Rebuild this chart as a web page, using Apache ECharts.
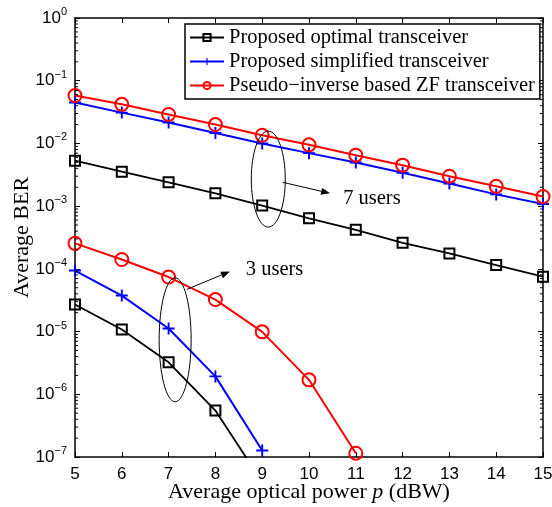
<!DOCTYPE html>
<html>
<head>
<meta charset="utf-8">
<script src="https://cdn.jsdelivr.net/npm/echarts@6/dist/echarts.min.js"></script>
<style>
  html, body { margin: 0; padding: 0; background: #fff; }
  #chart { width: 552px; height: 507px; }
</style>
</head>
<body>
<div id="chart"></div>
<script>
// x values (dBW)
const power = [5, 6, 7, 8, 9, 10, 11, 12, 13, 14, 15]

// 7 users
const optimal7 = [5.3e-3, 3.55e-3, 2.4e-3, 1.6e-3, 1.02e-3, 6.4e-4, 4.2e-4, 2.6e-4, 1.76e-4, 1.15e-4, 7.5e-5]
const simplified7 = [4.5e-2, 3.1e-2, 2.16e-2, 1.47e-2, 1.0e-2, 7.0e-3, 4.95e-3, 3.4e-3, 2.3e-3, 1.54e-3, 1.08e-3]
const zf7 = [5.8e-2, 4.2e-2, 2.9e-2, 2.0e-2, 1.35e-2, 9.5e-3, 6.5e-3, 4.5e-3, 3.0e-3, 2.07e-3, 1.42e-3]

// 3 users
const power3opt = [5, 6, 7, 8, 9]
const optimal3 = [2.7e-5, 1.08e-5, 3.24e-6, 5.5e-7, 4e-8]
const power3simp = [5, 6, 7, 8, 9]
const simplified3 = [9.4e-5, 3.75e-5, 1.12e-5, 1.93e-6, 1.27e-7]
const power3zf = [5, 6, 7, 8, 9, 10, 11]
const zf3 = [2.55e-4, 1.41e-4, 7.4e-5, 3.24e-5, 9.9e-6, 1.7e-6, 1.15e-7]

const names = ['Proposed optimal transceiver', 'Proposed simplified transceiver', 'Pseudo\u2212inverse based ZF transceiver']

const sq = 'path://M0 0 L10 0 L10 10 L0 10 Z'
const plus = 'path://M4.2 0 L5.8 0 L5.8 4.2 L10 4.2 L10 5.8 L5.8 5.8 L5.8 10 L4.2 10 L4.2 5.8 L0 5.8 L0 4.2 L4.2 4.2 Z'

const pair = (xs, ys) => xs.map((x, i) => [x, ys[i]])

const mkSeries = (name, xs, ys, color, symbol, size, filled, width) => ({
  name: name,
  type: 'line',
  data: pair(xs, ys),
  clip: true,
  symbol: symbol,
  symbolSize: size,
  showAllSymbol: true,
  lineStyle: { color: color, width: width },
  itemStyle: filled
    ? { color: color, borderWidth: 0 }
    : { color: 'transparent', borderColor: color, borderWidth: 2 },
  emphasis: { disabled: true },
  z: 3
})

const serif = 'Liberation Serif, Times New Roman, serif'
const sans = 'Liberation Sans, Arial, sans-serif'

const myChart = echarts.init(document.getElementById('chart'))

const supLabel = v => '{b|10}{s|' + String(Math.round(Math.log10(v))).replace('-', '\u2212') + '}'

const option = {
  animation: false,
  grid: { left: 75, right: 9, top: 18, bottom: 50, outerBoundsMode: 'none' },
  legend: {
    left: 185, top: 24,
    orient: 'vertical',
    data: names,
    backgroundColor: '#fff',
    borderColor: '#000',
    borderWidth: 1.5,
    padding: [3, 5, 3, 4],
    itemGap: 3,
    itemWidth: 34,
    itemHeight: 9,
    textStyle: { fontFamily: serif, fontSize: 20.5, color: '#000' },
    selectedMode: false
  },
  xAxis: [
    {
      type: 'value', min: 5, max: 15, interval: 1,
      axisLine: { lineStyle: { color: '#000', width: 1.5 } },
      axisTick: { inside: true, length: 5, lineStyle: { color: '#000' } },
      axisLabel: { fontFamily: sans, fontSize: 17, color: '#000', margin: 9 },
      splitLine: { show: false },
      name: '{n|Average optical power }{i|p}{n| (dBW)}',
      nameLocation: 'middle',
      nameGap: 24,
      nameMoveOverlap: false,
      nameTextStyle: {
        rich: {
          n: { fontFamily: serif, fontSize: 22, color: '#000' },
          i: { fontFamily: serif, fontSize: 22, fontStyle: 'italic', color: '#000' }
        }
      }
    },
    {
      type: 'value', min: 5, max: 15, interval: 1, position: 'top',
      axisLine: { show: true, lineStyle: { color: '#000', width: 1.5 } },
      axisTick: { inside: true, length: 5, lineStyle: { color: '#000' } },
      axisLabel: { show: false },
      splitLine: { show: false }
    }
  ],
  yAxis: [
    {
      type: 'log', min: 1e-7, max: 1, logBase: 10, interval: 1,
      axisLine: { show: true, lineStyle: { color: '#000', width: 1.5 } },
      axisTick: { show: true, inside: true, length: 5, lineStyle: { color: '#000' } },
      axisLabel: {
        formatter: supLabel,
        margin: 8,
        rich: {
          b: { fontFamily: sans, fontSize: 17, color: '#000' },
          s: { fontFamily: sans, fontSize: 11, color: '#000', verticalAlign: 'top', padding: [0, 0, 12, 0] }
        }
      },
      splitLine: { show: false },
      name: 'Average BER',
      nameLocation: 'middle',
      nameGap: 42,
      nameMoveOverlap: false,
      nameTextStyle: { fontFamily: serif, fontSize: 22, color: '#000' }
    },
    {
      type: 'log', min: 1e-7, max: 1, logBase: 10, interval: 1, position: 'right',
      axisLine: { show: true, lineStyle: { color: '#000', width: 1.5 } },
      axisTick: { show: true, inside: true, length: 5, lineStyle: { color: '#000' } },
      axisLabel: { show: false },
      splitLine: { show: false }
    }
  ],
  series: [
    mkSeries(names[0], power, optimal7, '#000', sq, 10, false, 1.8),
    mkSeries(names[1], power, simplified7, '#0000ff', plus, 12, true, 2),
    mkSeries(names[2], power, zf7, '#ff0000', 'circle', 13, false, 2),
    mkSeries(names[0], power3opt, optimal3, '#000', sq, 10, false, 1.8),
    mkSeries(names[1], power3simp, simplified3, '#0000ff', plus, 12, true, 2),
    mkSeries(names[2], power3zf, zf3, '#ff0000', 'circle', 13, false, 2)
  ]
}

myChart.setOption(option)

// annotations: ellipses and arrows placed in data coordinates
const px = (x, y) => myChart.convertToPixel({ xAxisIndex: 0, yAxisIndex: 0 }, [x, y])
const e7 = px(9.13, 2.7e-3)
const e3 = px(7.14, 7.4e-6)
const a7s = px(9.44, 2.4e-3), a7e = px(10.45, 1.6e-3)
const a3s = px(7.39, 4.7e-5), a3e = px(8.31, 9.1e-5)
const t7 = px(10.73, 1.33e-3), t3 = px(8.65, 9.8e-5)

const arrow = (s, e) => {
  const ang = Math.atan2(e[1] - s[1], e[0] - s[0])
  const L = 9, W = 3.5
  const bx = e[0] - L * Math.cos(ang), by = e[1] - L * Math.sin(ang)
  return [
    { type: 'line', shape: { x1: s[0], y1: s[1], x2: bx, y2: by }, style: { stroke: '#000', lineWidth: 1 }, z: 10 },
    {
      type: 'polygon',
      shape: { points: [e, [bx - W * Math.sin(ang), by + W * Math.cos(ang)], [bx + W * Math.sin(ang), by - W * Math.cos(ang)]] },
      style: { fill: '#000' }, z: 10
    }
  ]
}

// log-spaced minor ticks on the left and right y axes
const minorTicks = []
const xl = px(5, 1)[0], xr = px(15, 1)[0]
for (let d = -7; d < 0; d++) {
  for (let m = 2; m <= 9; m++) {
    const y = px(5, m * Math.pow(10, d))[1]
    minorTicks.push({ type: 'line', shape: { x1: xl, y1: y, x2: xl + 3, y2: y }, style: { stroke: '#000', lineWidth: 1 }, z: 10 })
    minorTicks.push({ type: 'line', shape: { x1: xr - 3, y1: y, x2: xr, y2: y }, style: { stroke: '#000', lineWidth: 1 }, z: 10 })
  }
}

myChart.setOption({
  graphic: [
    ...minorTicks,
    { type: 'ellipse', shape: { cx: e7[0], cy: e7[1], rx: 17, ry: 48 }, style: { fill: 'none', stroke: '#000', lineWidth: 1 }, z: 10 },
    { type: 'ellipse', shape: { cx: e3[0], cy: e3[1], rx: 16, ry: 62 }, style: { fill: 'none', stroke: '#000', lineWidth: 1 }, z: 10 },
    ...arrow(a7s, a7e),
    ...arrow(a3s, a3e),
    { type: 'text', x: t7[0], y: t7[1], style: { text: '7 users', font: '20.5px ' + serif, fill: '#000', verticalAlign: 'middle' }, z: 10 },
    { type: 'text', x: t3[0], y: t3[1], style: { text: '3 users', font: '20.5px ' + serif, fill: '#000', verticalAlign: 'middle' }, z: 10 }
  ]
})

window.addEventListener('resize', () => myChart.resize())
</script>
</body>
</html>
